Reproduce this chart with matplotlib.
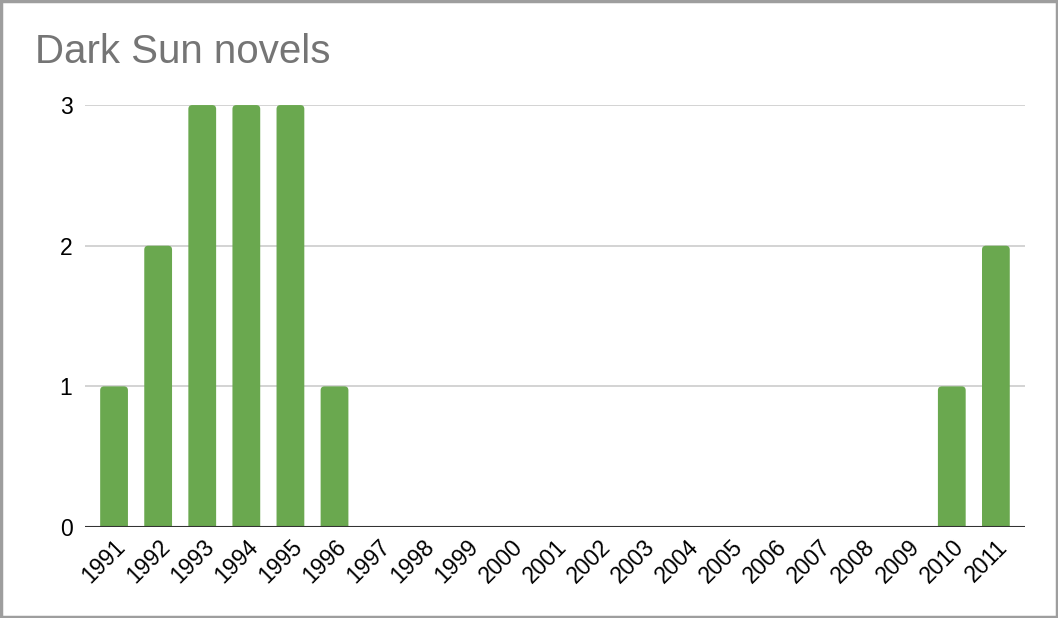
import matplotlib.pyplot as plt
from matplotlib.patches import Rectangle, FancyBboxPatch

plt.rcParams['font.family'] = ['Liberation Sans', 'DejaVu Sans']

years = [str(y) for y in range(1991, 2012)]
novels = [1, 2, 3, 3, 3, 1, 0, 0, 0, 0, 0, 0, 0, 0, 0, 0, 0, 0, 0, 1, 2]

fig = plt.figure(figsize=(10.58, 6.18), dpi=100)
ax = fig.add_axes([0.0803, 0.1472, 0.8885, 0.6828])

x = range(len(years))
bars = ax.bar(x, novels, width=0.63, color='#6aa84f', zorder=3)

ax.set_xlim(-0.66, len(years) - 0.34)
ax.set_ylim(0, 3)

# swap plain bars for ones with rounded top corners
# (start them a bit below zero so the bottom rounding is clipped away)
for b in bars:
    if b.get_height() <= 0:
        continue
    r = FancyBboxPatch((b.get_x(), -0.04), b.get_width(), b.get_height() + 0.04,
                       boxstyle='round,pad=0,rounding_size=0.09',
                       mutation_aspect=0.31, facecolor='#6aa84f',
                       edgecolor='none', zorder=3)
    ax.add_patch(r)
    b.set_visible(False)

ax.set_yticks([0, 1, 2, 3])
ax.grid(axis='y', color='#cccccc', linewidth=1.2, zorder=0)
ax.axhline(0, color='#333333', linewidth=1.5, zorder=4)
for s in ax.spines.values():
    s.set_visible(False)
ax.tick_params(axis='both', length=0, labelsize=16.5, colors='black')
ax.tick_params(axis='y', pad=9)
ax.set_xticks(list(x))
ax.set_xticklabels(years, rotation=45, ha='right', rotation_mode='anchor')
ax.tick_params(axis='x', pad=6)

fig.text(0.033, 0.898, 'Dark Sun novels', fontsize=29, color='#757575')

fig.patches.append(Rectangle((0.001, 0.002), 0.998, 0.996, transform=fig.transFigure,
                             fill=False, edgecolor='#9e9e9e', linewidth=2.5))

fig.savefig('out.png', dpi=100)
